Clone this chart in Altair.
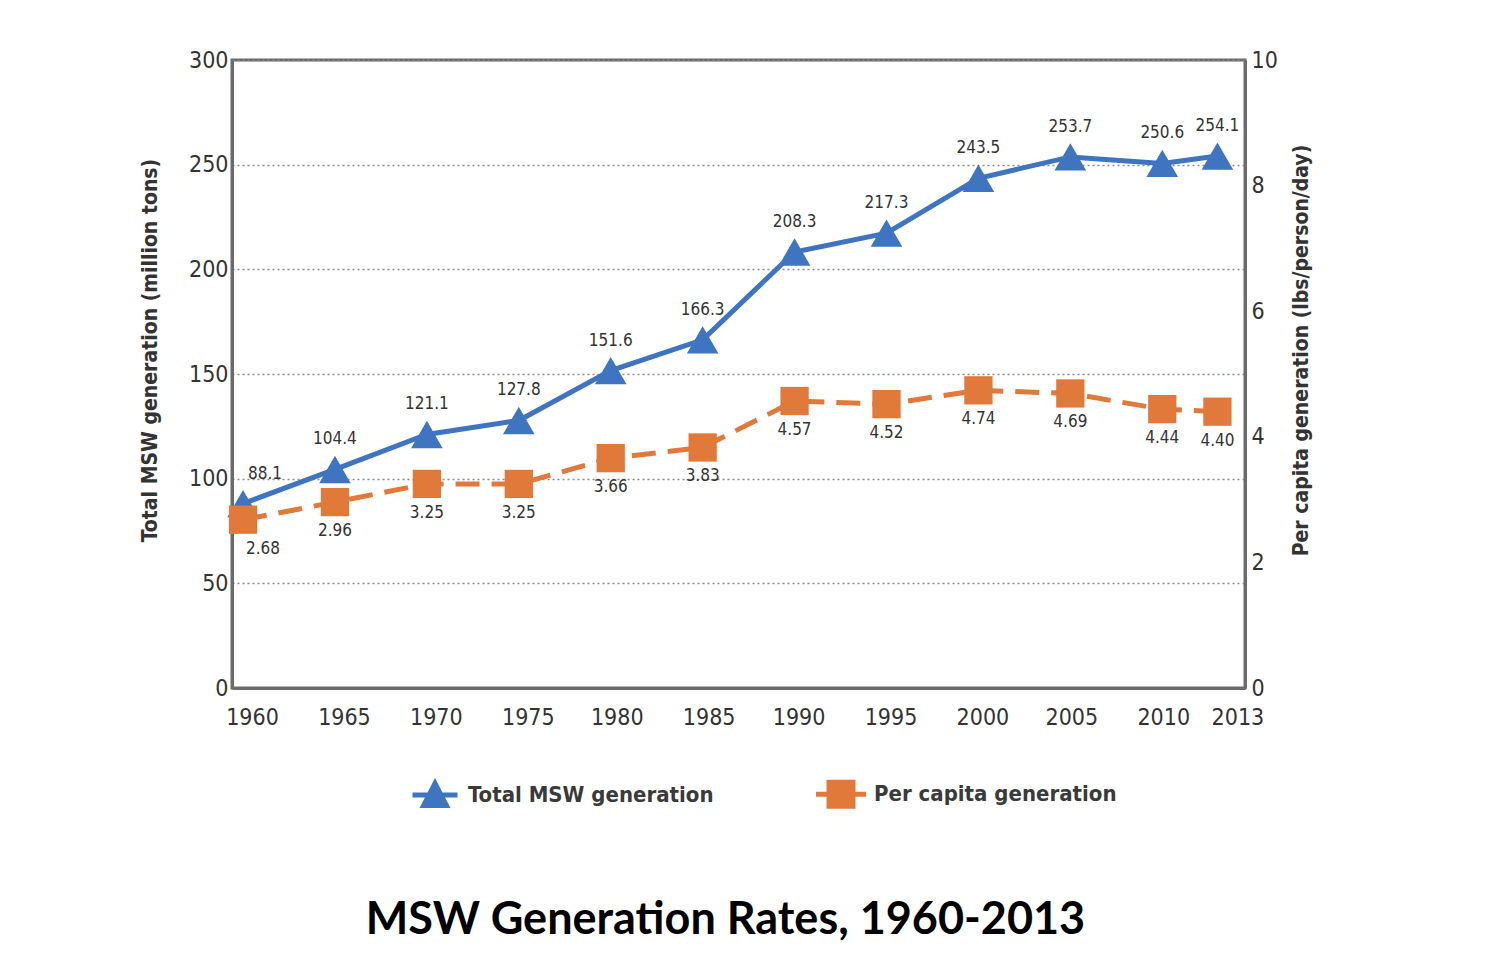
import altair as alt
import pandas as pd

years = [1960, 1965, 1970, 1975, 1980, 1985, 1990, 1995, 2000, 2005, 2010, 2013]
total_msw = [88.1, 104.4, 121.1, 127.8, 151.6, 166.3, 208.3, 217.3, 243.5, 253.7, 250.6, 254.1]
per_capita = [2.68, 2.96, 3.25, 3.25, 3.66, 3.83, 4.57, 4.52, 4.74, 4.69, 4.44, 4.40]
series_names = ["Total MSW generation", "Per capita generation"]
left_ticks = [0, 50, 100, 150, 200, 250, 300]
right_ticks = [0, 2, 4, 6, 8, 10]

BLUE = "#3f74c0"
ORANGE = "#e0793a"
NARROW = "DejaVu Sans Condensed, Roboto, sans-serif"

df = pd.DataFrame({"year": years, "total": total_msw, "per": per_capita})
legend_df = pd.DataFrame({"series": series_names})

x = alt.X(
    "year:Q",
    scale=alt.Scale(domain=[1959.4, 2014.5], nice=False, zero=False),
    axis=alt.Axis(
        values=years, format="d", title=None, ticks=False, grid=False,
        labelPadding=18,
        labelOffset={
            "condition": [
                {"test": "datum.value == 2013", "value": 20},
                {"test": "datum.value >= 2005", "value": 1},
                {"test": "datum.value >= 1990", "value": 4},
                {"test": "datum.value >= 1980", "value": 6},
            ],
            "value": 9,
        },
    ),
)

y_left = alt.Y(
    "total:Q",
    scale=alt.Scale(domain=[0, 300], nice=False, zero=True),
    axis=alt.Axis(
        values=left_ticks, title="Total MSW generation (million tons)",
        grid=True, gridDash=[2, 3], gridColor="#8c8c8c", gridWidth=1.5,
        ticks=False, labelPadding=4, titlePadding=28, titleY=290,
    ),
)

y_right = alt.Y(
    "per:Q",
    scale=alt.Scale(domain=[0, 10], nice=False, zero=True),
    axis=alt.Axis(
        orient="right", values=right_ticks,
        title="Per capita generation (lbs/person/day)", titleAngle=270,
        grid=False, ticks=False, labelPadding=6, titlePadding=34, titleY=290,
    ),
)

base = alt.Chart(df)
LBL = dict(font=NARROW, fontSize=17, color="#333333")

total_line = base.mark_line(color=BLUE, strokeWidth=5).encode(x=x, y=y_left)
total_pts = base.mark_point(shape="triangle-up", filled=True, opacity=1, color=BLUE, size=1000).encode(x=x, y=y_left)
total_txt_first = base.transform_filter("datum.year == 1960").mark_text(
    dy=-30, dx=22, **LBL
).encode(x=x, y=y_left, text=alt.Text("total:Q", format=".1f"))
total_txt = base.transform_filter("datum.year != 1960").mark_text(
    dy=-30, **LBL
).encode(x=x, y=y_left, text=alt.Text("total:Q", format=".1f"))

per_line = base.mark_line(color=ORANGE, strokeWidth=5, strokeDash=[24, 12]).encode(x=x, y=y_right)
per_pts = base.mark_point(shape="square", filled=True, opacity=1, color=ORANGE, size=800).encode(x=x, y=y_right)
per_txt_first = base.transform_filter("datum.year == 1960").mark_text(
    dy=29, dx=20, **LBL
).encode(x=x, y=y_right, text=alt.Text("per:Q", format=".2f"))
per_txt = base.transform_filter("datum.year != 1960").mark_text(
    dy=29, **LBL
).encode(x=x, y=y_right, text=alt.Text("per:Q", format=".2f"))

left = alt.layer(total_line, total_pts, total_txt_first, total_txt)
right = alt.layer(per_line, per_pts, per_txt_first, per_txt)

tri_path = "M-0.9,-0.1H0.9V0.1H-0.9Z M0,-0.68L0.62,0.52H-0.62Z"
sq_path = "M-1,-0.1H1V0.1H-1Z M-0.58,-0.58H0.58V0.58H-0.58Z"

legend_opts = dict(
    title=None, orient="none", direction="horizontal",
    legendX=178, legendY=709,
    symbolSize=2500, symbolOpacity=1, symbolStrokeWidth=0,
    labelFont=NARROW, labelFontWeight="bold", labelFontSize=22,
    labelColor="#3a3a3a", labelOffset=8, labelLimit=500,
    columnPadding=102, padding=0,
)

legend_layer = alt.Chart(legend_df).mark_point(filled=True, opacity=0).encode(
    color=alt.Color(
        "series:N",
        scale=alt.Scale(domain=series_names, range=[BLUE, ORANGE]),
        legend=alt.Legend(**legend_opts),
    ),
    shape=alt.Shape(
        "series:N",
        scale=alt.Scale(domain=series_names, range=[tri_path, sq_path]),
        legend=alt.Legend(**legend_opts),
    ),
)

chart = (
    alt.layer(left, right, legend_layer)
    .resolve_scale(y="independent")
    .properties(
        width=1013,
        height=628,
        autosize=alt.AutoSizeParams(type="none"),
        padding={"left": 224, "top": 52, "right": 240, "bottom": 272},
        title=alt.TitleParams(
            "MSW Generation Rates, 1960-2013",
            orient="bottom", frame="group", anchor="middle",
            offset=89, dx=-13,
            font="Lato, Open Sans, sans-serif", fontSize=45, fontWeight="bold",
            color="#000000",
        ),
    )
    .configure_view(stroke="#6b6b6b", strokeWidth=3)
    .configure_axis(
        domainColor="#6b6b6b", domainWidth=3,
        labelFont=NARROW, labelFontSize=23, labelColor="#333333",
        titleFont=NARROW, titleFontSize=21, titleFontWeight="bold", titleColor="#333333",
    )
)

chart.save("out.html", embed_options={"renderer": "svg", "actions": False})
